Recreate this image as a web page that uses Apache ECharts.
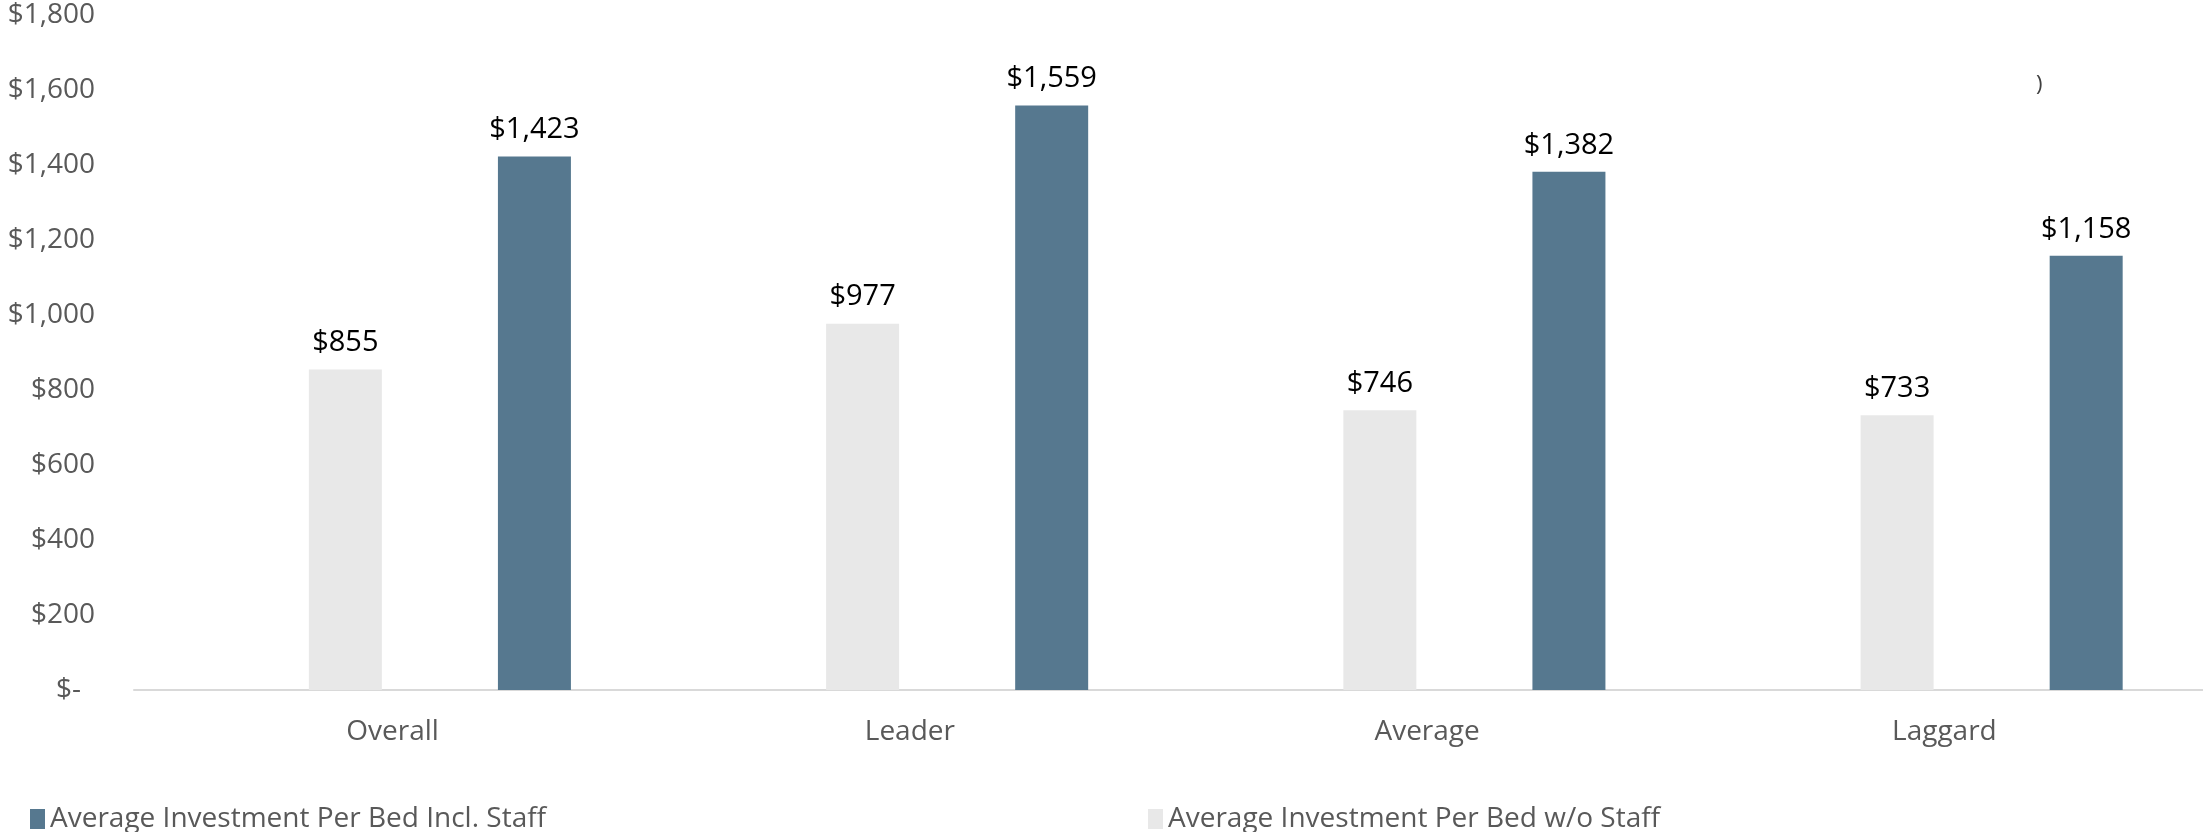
<!DOCTYPE html>
<html>
<head>
<meta charset="utf-8">
<script src="https://cdn.jsdelivr.net/npm/echarts@6/dist/echarts.min.js"></script>
<style>
html,body{margin:0;padding:0;background:#fff;}
#chart{width:2203px;height:832px;}
</style>
</head>
<body>
<div id="chart"></div>
<script>
var categories = ['Overall', 'Leader', 'Average', 'Laggard'];
var withoutStaff = [855, 977, 746, 733];
var inclStaff = [1423, 1559, 1382, 1158];
var nameIncl = 'Average Investment Per Bed Incl. Staff';
var nameWithout = 'Average Investment Per Bed w/o Staff';
var emptySlot = [null, null, null, null];

var FONT = 'Open Sans';
function money(v) {
  return '$' + String(v).replace(/\B(?=(\d{3})+(?!\d))/g, ',');
}

var chart = echarts.init(document.getElementById('chart'));
var barW = 73;
var labelCfg = {
  show: true, position: 'top', distance: 12,
  fontFamily: FONT, fontSize: 29, color: '#000000',
  formatter: function (p) { return money(p.value); }
};
chart.setOption({
  animation: false,
  backgroundColor: '#ffffff',
  grid: { left: 134, width: 2078, top: 15, bottom: 142, containLabel: false },
  legend: [
    { data: [nameIncl], left: 25, top: 800, itemWidth: 15, itemHeight: 20, itemGap: 0,
      icon: 'rect', textStyle: { fontFamily: FONT, fontSize: 28, color: '#595959' } },
    { data: [nameWithout], left: 1143, top: 800, itemWidth: 15, itemHeight: 20, itemGap: 0,
      icon: 'rect', textStyle: { fontFamily: FONT, fontSize: 28, color: '#595959' } }
  ],
  xAxis: {
    type: 'category', data: categories,
    axisLine: { show: true, lineStyle: { color: '#d9d9d9', width: 2 } },
    axisTick: { show: false },
    axisLabel: { fontFamily: FONT, fontSize: 28, color: '#595959', margin: 28 },
    splitLine: { show: false }
  },
  yAxis: {
    type: 'value', min: 0, max: 1800, interval: 200,
    axisLine: { show: false }, axisTick: { show: false },
    splitLine: { show: false },
    axisLabel: {
      fontFamily: FONT, fontSize: 28, color: '#595959', margin: 39,
      formatter: function (v) { return v === 0 ? '{z|$-}' : money(v); },
      rich: { z: { fontFamily: FONT, fontSize: 28, color: '#595959', padding: [0, 14, 0, 0] } }
    }
  },
  series: [
    { name: '_blank1', type: 'bar', data: emptySlot, barWidth: barW, barGap: '29.5%', silent: true },
    { name: nameWithout, type: 'bar', data: withoutStaff, barWidth: barW, barGap: '29.5%',
      itemStyle: { color: '#e8e8e8' }, label: labelCfg },
    { name: '_blank2', type: 'bar', data: emptySlot, barWidth: barW, barGap: '29.5%', silent: true },
    { name: nameIncl, type: 'bar', data: inclStaff, barWidth: barW, barGap: '29.5%',
      itemStyle: { color: '#56788f' }, label: labelCfg }
  ],
  graphic: [
    { type: 'text', left: 2036, top: 74,
      style: { text: ')', fontFamily: FONT, fontSize: 22, fill: '#404040' } }
  ]
});
</script>
</body>
</html>
